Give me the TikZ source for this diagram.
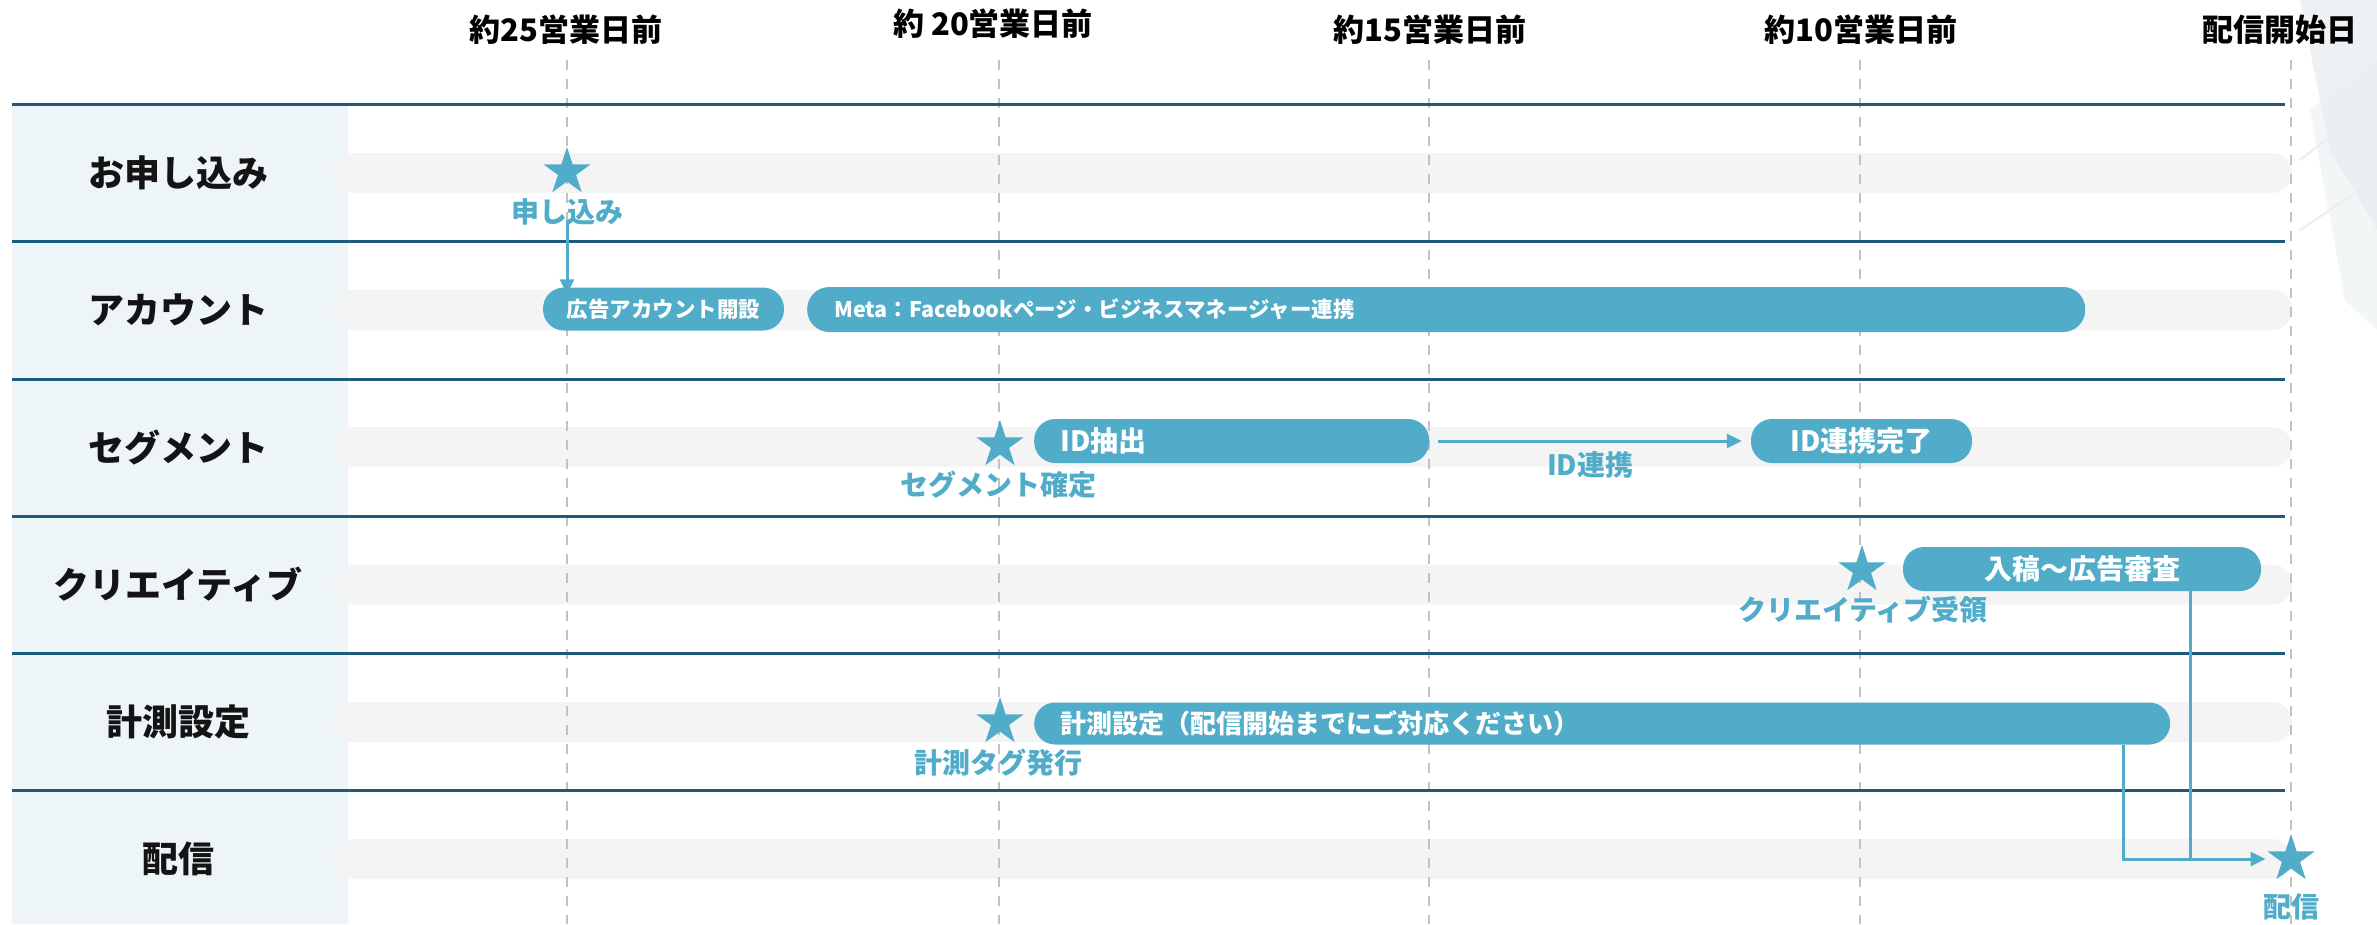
\documentclass[tikz,border=0pt]{standalone}
\usepackage{fontspec}
\setmainfont{Noto Sans CJK JP}
\usetikzlibrary{shapes.geometric,arrows.meta,calc}
\definecolor{tealc}{HTML}{50ACC8}
\definecolor{darkline}{HTML}{1E5A7E}
\definecolor{leftbg}{HTML}{EDF5F8}
\definecolor{bandc}{HTML}{F4F4F4}
\definecolor{dashc}{HTML}{C2C2C2}
\definecolor{decoc}{HTML}{E9EEF1}
\begin{document}
\begin{tikzpicture}[x=1pt,y=-1pt,
  hdr/.style={font=\bfseries\fontsize{31}{34}\selectfont, text=black, inner sep=0pt},
  rowlab/.style={font=\bfseries\fontsize{36}{39}\selectfont, text=black!92, inner sep=0pt},
  starlab/.style={font=\bfseries\fontsize{28}{30}\selectfont, text=tealc, inner sep=0pt},
  mstar/.style={star, star points=5, star point ratio=2.618, fill=tealc, minimum size=50pt, inner sep=0pt},
  pill/.style={fill=tealc, rounded corners=21pt, minimum height=43pt, inner ysep=0pt, text=white},
  smallpill/.style={pill, font=\bfseries\fontsize{21.5}{24}\selectfont},
  bigpill/.style={pill, font=\bfseries\fontsize{28}{30}\selectfont},
  conn/.style={draw=tealc, line width=3pt, -{Triangle[length=15pt,width=14pt]}},
  plainconn/.style={draw=tealc, line width=3pt},
  gridline/.style={draw=darkline, line width=3pt},
  timeline/.style={draw=dashc, line width=2pt, dash pattern=on 10pt off 9pt}
]
\useasboundingbox (0,0) rectangle (2377,924);
\fill[white] (0,0) rectangle (2377,924);
% faint decoration at the right edge
\fill[decoc, opacity=0.8] (2300,0) -- (2377,0) -- (2377,230) -- (2330,150) -- cycle;
\fill[decoc, opacity=0.5] (2310,110) -- (2377,60) -- (2377,330) -- (2345,300) -- cycle;
\draw[decoc, line width=2pt] (2300,160) -- (2377,100);
\draw[decoc, line width=2pt] (2300,230) -- (2360,190) -- (2377,215);
% left column
\fill[leftbg] (12,104) rectangle (348,924);
% bands
\foreach \yc in {173,310,447,584.5,722,859}{
  \fill[bandc, rounded corners=20pt] (333,\yc-20) rectangle (2292,\yc+20);
}
% headers
\node[hdr] (h1) at (566,30) {約25営業日前};
\node[hdr] (h2) at (993,24) {約 20営業日前};
\node[hdr] (h3) at (1430,30) {約15営業日前};
\node[hdr] (h4) at (1861,30) {約10営業日前};
\node[hdr] (h5) at (2280,30) {配信開始日};
% dashed time lines
\foreach \xc in {567,999,1429,1860,2291}{
  \draw[timeline] (\xc,60) -- (\xc,924);
}
% row separators
\foreach \yc in {104,241,379,516,653,790}{
  \draw[gridline] (12,\yc) -- (2285,\yc);
}
% row labels
\node[rowlab] (r1) at (178,172.5) {お申し込み};
\node[rowlab] (r2) at (178,309.5) {アカウント};
\node[rowlab] (r3) at (178,447) {セグメント};
\node[rowlab] (r4) at (178,584.5) {クリエイティブ};
\node[rowlab] (r5) at (178,721.5) {計測設定};
\node[rowlab] (r6) at (178,858.5) {配信};
% pills
\node[smallpill, minimum width=241pt] (acct) at (663.5,309) {広告アカウント開設};
\node[smallpill, anchor=west, minimum width=1278pt, inner xsep=27pt, text width=1224pt, align=left, minimum height=45pt, rounded corners=22pt] (meta) at (807,309.5) {Meta：Facebookページ・ビジネスマネージャー連携};
\node[bigpill, anchor=west, minimum width=395pt, inner xsep=26pt, text width=343pt, align=left, minimum height=44pt] (idx) at (1034,441) {ID抽出};
\node[bigpill, minimum width=221pt, minimum height=44pt] (iddone) at (1861.5,441) {ID連携完了};
\node[bigpill, minimum width=358pt, minimum height=44pt] (crea) at (2082,569) {入稿～広告審査};
\node[pill, font=\bfseries\fontsize{26}{28}\selectfont, anchor=west, minimum width=1136pt, inner xsep=26pt, text width=1084pt, align=left, minimum height=42pt] (meas) at (1034,723.5) {計測設定（配信開始までにご対応ください）};
% stars
\node[mstar] (s1) at (567,172) {};
\node[mstar] (s3) at (1000,445) {};
\node[mstar] (s4) at (1862,570) {};
\node[mstar] (s5) at (1000,722) {};
\node[mstar] (s6) at (2291,859) {};
% star labels
\node[starlab] (l1) at (567,212) {申し込み};
\node[starlab] (l3) at (998,485) {セグメント確定};
\node[starlab] (l4) at (1863,610) {クリエイティブ受領};
\node[starlab] (l5) at (998,763) {計測タグ発行};
\node[starlab] (l6) at (2291,907) {配信};
% connectors
\draw[conn] ([yshift=6pt]l1.south) -- ([yshift=-7pt]l1.south |- acct.north);
\draw[conn] ([xshift=9pt]idx.east) -- ([xshift=-9pt]iddone.west) node[midway, starlab, below=9pt] (l7) {ID連携};
\draw[plainconn] ([xshift=-71pt]crea.south east) -- ([xshift=-71pt]crea.south east |- s6);
\draw[conn, shorten >=12pt] ([xshift=-47pt]meas.south east) -- ([xshift=-47pt]meas.south east |- s6) -- (s6.west);
\end{tikzpicture}
\end{document}
